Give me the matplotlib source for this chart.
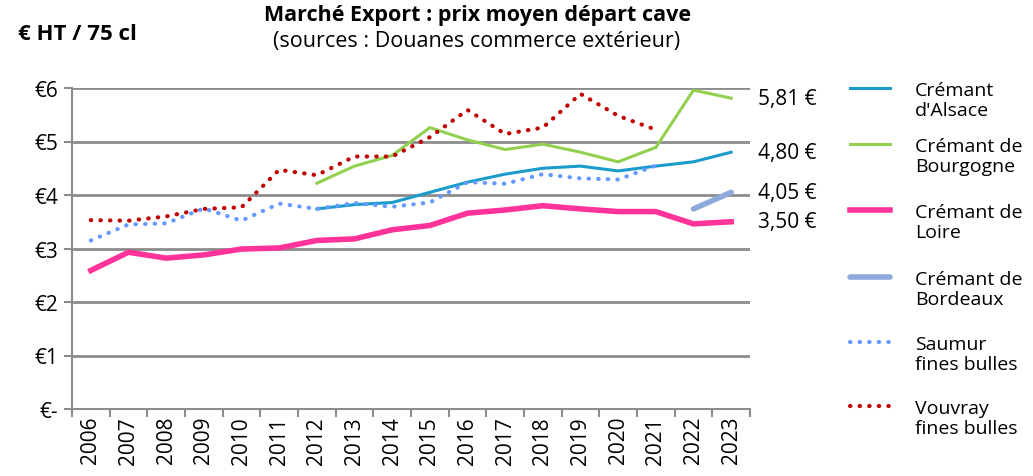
import numpy as np
import matplotlib.pyplot as plt
from matplotlib.lines import Line2D

years = [str(y) for y in range(2006, 2024)]
nan = np.nan

alsace = [nan, nan, nan, nan, nan, nan, 3.74, 3.82, 3.86, 4.05, 4.24, 4.39, 4.50, 4.54, 4.45, 4.54, 4.62, 4.80]
bourgogne = [nan, nan, nan, nan, nan, nan, 4.22, 4.54, 4.74, 5.26, 5.03, 4.85, 4.95, 4.80, 4.62, 4.89, 5.96, 5.81]
loire = [2.59, 2.93, 2.82, 2.88, 2.99, 3.01, 3.15, 3.18, 3.35, 3.43, 3.66, 3.72, 3.80, 3.74, 3.69, 3.69, 3.46, 3.50]
bordeaux = [nan] * 16 + [3.74, 4.05]
saumur = [3.15, 3.45, 3.47, 3.75, 3.52, 3.84, 3.74, 3.85, 3.78, 3.86, 4.24, 4.21, 4.39, 4.31, 4.29, 4.55, nan, nan]
vouvray = [3.53, 3.52, 3.60, 3.74, 3.77, 4.47, 4.37, 4.72, 4.72, 5.08, 5.59, 5.14, 5.26, 5.89, 5.48, 5.22, nan, nan]

end_labels = ["5,81 €", "4,80 €", "4,05 €", "3,50 €"]
end_label_y = [5.81, 4.80, 4.05, 3.50]

plt.rcParams['font.family'] = ['Open Sans', 'DejaVu Sans']

W, H = 1033, 477
fig = plt.figure(figsize=(W / 100, H / 100), dpi=100)
ax = fig.add_axes([72 / W, 1 - 410 / H, 678 / W, 321 / H])

x = np.arange(len(years))
grid_c = '#8c8c8c'
dot = (0, (0.1, 2.2))

series = [
    (alsace, "Crémant\nd'Alsace", dict(color='#1b9bcc', lw=2.2)),
    (bourgogne, "Crémant de\nBourgogne", dict(color='#92d050', lw=2.2)),
    (loire, "Crémant de\nLoire", dict(color='#ff3399', lw=4)),
    (bordeaux, "Crémant de\nBordeaux", dict(color='#8ea9db', lw=4, solid_capstyle='round')),
    (saumur, "Saumur\nfines bulles", dict(color='#6699ff', lw=3, ls=dot, dash_capstyle='round')),
    (vouvray, "Vouvray\nfines bulles", dict(color='#c00000', lw=3, ls=dot, dash_capstyle='round')),
]
for vals, lab, st in series:
    ax.plot(x, vals, **st)

ax.set_xlim(-0.5, len(years) - 0.5)
ax.set_ylim(0, 6)
ax.set_yticks(range(0, 7))
ax.set_yticklabels(['€-', '€1', '€2', '€3', '€4', '€5', '€6'], fontsize=15)
ax.set_xticks(x)
ax.set_xticklabels(years, rotation=90, fontsize=15)
ax.set_xticks(np.arange(-0.5, len(years)), minor=True)
ax.tick_params(axis='x', which='major', length=0, pad=5)
ax.tick_params(axis='x', which='minor', length=6, color=grid_c, width=1.5)
ax.tick_params(axis='y', length=6, color=grid_c, width=1.5, pad=4)

ax.grid(axis='y', color=grid_c, lw=2)
ax.set_axisbelow(True)
for s in ['top', 'right']:
    ax.spines[s].set_visible(False)
for s in ['left', 'bottom']:
    ax.spines[s].set_color(grid_c)
    ax.spines[s].set_linewidth(1.5)

for lab, yv in zip(end_labels, end_label_y):
    ax.annotate(lab, xy=(1, yv), xycoords=('axes fraction', 'data'),
                xytext=(6, 0), textcoords='offset points', va='center', fontsize=15)

fig.text(477 / W, 1 - 15 / H, "Marché Export : prix moyen départ cave",
         ha='center', va='center', fontsize=15.5, fontweight='bold')
fig.text(477 / W, 1 - 42 / H, "(sources : Douanes commerce extérieur)",
         ha='center', va='center', fontsize=15.5)
fig.text(18 / W, 1 - 35 / H, "€ HT / 75 cl", ha='left', va='center',
         fontsize=16, fontweight='bold')

# legend, handle aligned with the first line of each label
leg_y = [89, 145, 211, 278, 343, 407]
for (vals, lab, st), py in zip(series, leg_y):
    fy = 1 - py / H
    fig.add_artist(Line2D([850 / W, 890 / W], [fy, fy], transform=fig.transFigure, **st))
    fig.text(915 / W, fy + 7 / H, lab, ha='left', va='top', fontsize=14, linespacing=1.15)

fig.savefig('out.png', dpi=100)
